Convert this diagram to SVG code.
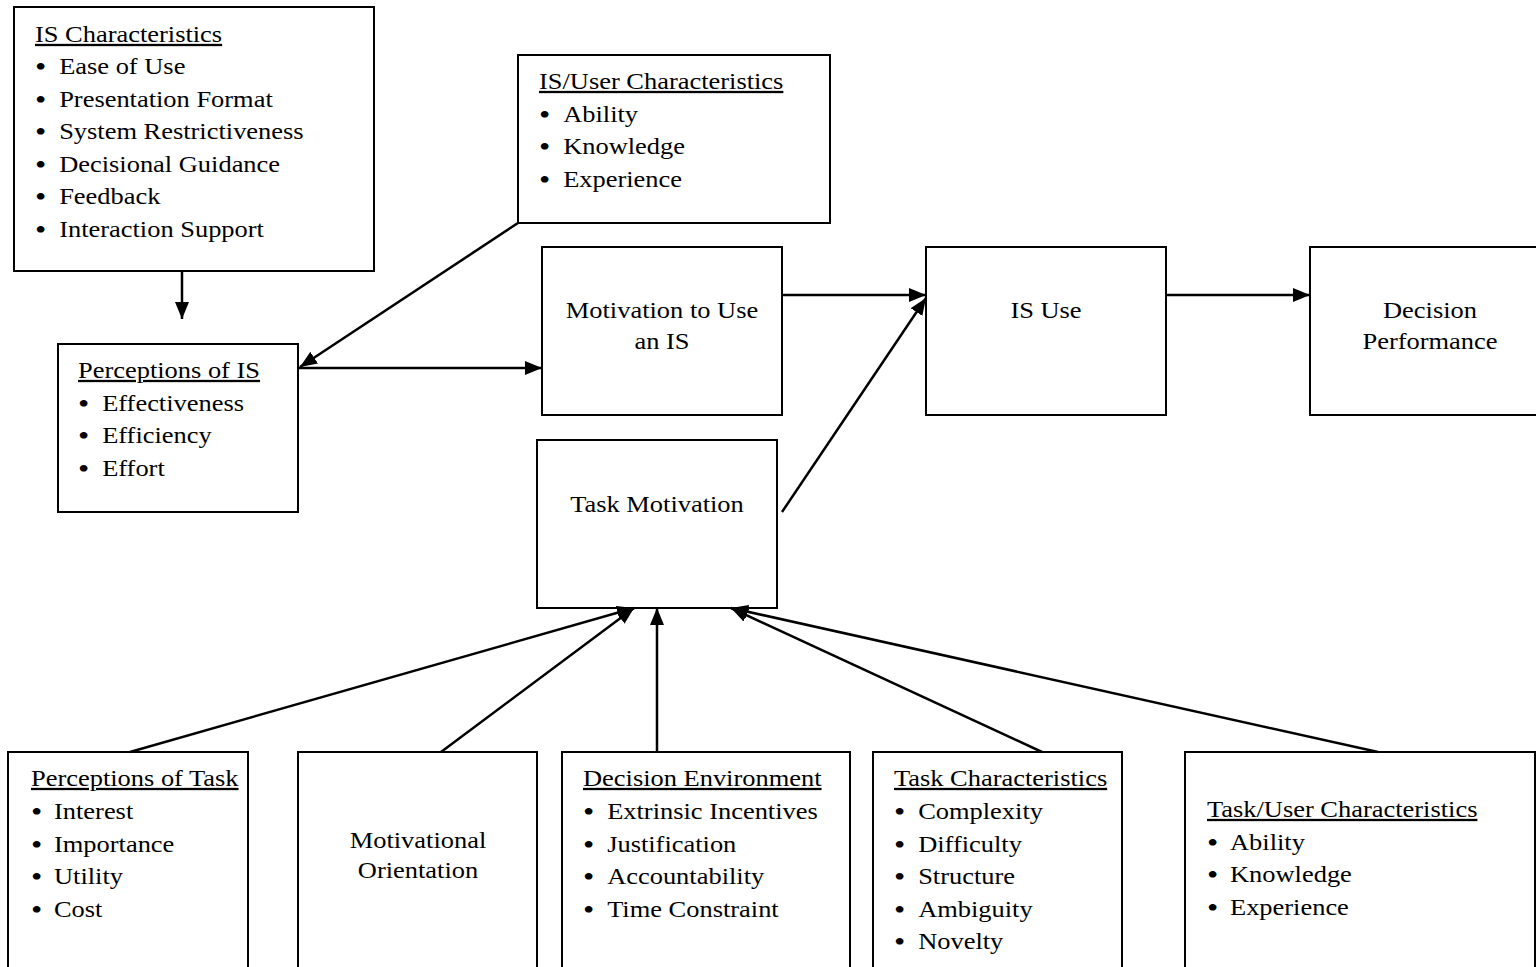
<svg xmlns="http://www.w3.org/2000/svg" width="1536" height="967" viewBox="0 0 1536 967">
<defs>
<marker id="arrow" markerUnits="userSpaceOnUse" markerWidth="18" markerHeight="14" refX="17" refY="7" orient="auto">
<path d="M0,0 L17,7 L0,14 Z" fill="#000"/>
</marker>
<style>
.box{fill:#fff;stroke:#000;stroke-width:2}
text{font-family:"Liberation Serif","Times New Roman",serif;font-size:23px;fill:#000}
.t{text-decoration:underline}
.c{text-anchor:middle}
.b{font-size:28px}
.conn line{stroke:#000;stroke-width:2.5;marker-end:url(#arrow)}
</style>
</defs>
<rect width="1536" height="967" fill="#fff"/>
<g id="is-characteristics">
<rect class="box" x="14" y="7" width="360" height="264"/>
<g transform="matrix(1.15 0 0 1 -5.25 0)">
<text class="t" x="35" y="42">IS Characteristics</text>
<text x="35" y="74"><tspan class="b" dy="2">•</tspan><tspan x="56" dy="-2">Ease of Use</tspan></text>
<text x="35" y="107"><tspan class="b" dy="2">•</tspan><tspan x="56" dy="-2">Presentation Format</tspan></text>
<text x="35" y="139"><tspan class="b" dy="2">•</tspan><tspan x="56" dy="-2">System Restrictiveness</tspan></text>
<text x="35" y="172"><tspan class="b" dy="2">•</tspan><tspan x="56" dy="-2">Decisional Guidance</tspan></text>
<text x="35" y="204"><tspan class="b" dy="2">•</tspan><tspan x="56" dy="-2">Feedback</tspan></text>
<text x="35" y="237"><tspan class="b" dy="2">•</tspan><tspan x="56" dy="-2">Interaction Support</tspan></text>
</g>
</g>
<g id="is-user-characteristics">
<rect class="box" x="518" y="55" width="312" height="168"/>
<g transform="matrix(1.15 0 0 1 -80.85 0)">
<text class="t" x="539" y="89">IS/User Characteristics</text>
<text x="539" y="122"><tspan class="b" dy="2">•</tspan><tspan x="560" dy="-2">Ability</tspan></text>
<text x="539" y="154"><tspan class="b" dy="2">•</tspan><tspan x="560" dy="-2">Knowledge</tspan></text>
<text x="539" y="187"><tspan class="b" dy="2">•</tspan><tspan x="560" dy="-2">Experience</tspan></text>
</g>
</g>
<g id="perceptions-of-is">
<rect class="box" x="58" y="344" width="240" height="168"/>
<g transform="matrix(1.15 0 0 1 -11.7 0)">
<text class="t" x="78" y="378">Perceptions of IS</text>
<text x="78" y="411"><tspan class="b" dy="2">•</tspan><tspan x="99" dy="-2">Effectiveness</tspan></text>
<text x="78" y="443"><tspan class="b" dy="2">•</tspan><tspan x="99" dy="-2">Efficiency</tspan></text>
<text x="78" y="476"><tspan class="b" dy="2">•</tspan><tspan x="99" dy="-2">Effort</tspan></text>
</g>
</g>
<g id="motivation-to-use">
<rect class="box" x="542" y="247" width="240" height="168"/>
<g transform="matrix(1.15 0 0 1 -99.3 0)">
<text class="c" x="662" y="318">Motivation to Use</text>
<text class="c" x="662" y="349">an IS</text>
</g>
</g>
<g id="is-use">
<rect class="box" x="926" y="247" width="240" height="168"/>
<g transform="matrix(1.15 0 0 1 -156.9 0)">
<text class="c" x="1046" y="318">IS Use</text>
</g>
</g>
<g id="decision-performance">
<rect class="box" x="1310" y="247" width="250" height="168"/>
<g transform="matrix(1.15 0 0 1 -214.5 0)">
<text class="c" x="1430" y="318">Decision</text>
<text class="c" x="1430" y="349">Performance</text>
</g>
</g>
<g id="task-motivation">
<rect class="box" x="537" y="440" width="240" height="168"/>
<g transform="matrix(1.15 0 0 1 -98.55 0)">
<text class="c" x="657" y="512">Task Motivation</text>
</g>
</g>
<g id="perceptions-of-task">
<rect class="box" x="8" y="752" width="240" height="230"/>
<g transform="matrix(1.15 0 0 1 -4.65 0)">
<text class="t" x="31" y="786">Perceptions of Task</text>
<text x="31" y="819"><tspan class="b" dy="2">•</tspan><tspan x="51" dy="-2">Interest</tspan></text>
<text x="31" y="852"><tspan class="b" dy="2">•</tspan><tspan x="51" dy="-2">Importance</tspan></text>
<text x="31" y="884"><tspan class="b" dy="2">•</tspan><tspan x="51" dy="-2">Utility</tspan></text>
<text x="31" y="917"><tspan class="b" dy="2">•</tspan><tspan x="51" dy="-2">Cost</tspan></text>
</g>
</g>
<g id="motivational-orientation">
<rect class="box" x="298" y="752" width="239" height="230"/>
<g transform="matrix(1.15 0 0 1 -62.7 0)">
<text class="c" x="418" y="848">Motivational</text>
<text class="c" x="418" y="878">Orientation</text>
</g>
</g>
<g id="decision-environment">
<rect class="box" x="562" y="752" width="288" height="230"/>
<g transform="matrix(1.15 0 0 1 -87.45 0)">
<text class="t" x="583" y="786">Decision Environment</text>
<text x="583" y="819"><tspan class="b" dy="2">•</tspan><tspan x="604" dy="-2">Extrinsic Incentives</tspan></text>
<text x="583" y="852"><tspan class="b" dy="2">•</tspan><tspan x="604" dy="-2">Justification</tspan></text>
<text x="583" y="884"><tspan class="b" dy="2">•</tspan><tspan x="604" dy="-2">Accountability</tspan></text>
<text x="583" y="917"><tspan class="b" dy="2">•</tspan><tspan x="604" dy="-2">Time Constraint</tspan></text>
</g>
</g>
<g id="task-characteristics">
<rect class="box" x="873" y="752" width="249" height="230"/>
<g transform="matrix(1.15 0 0 1 -134.1 0)">
<text class="t" x="894" y="786">Task Characteristics</text>
<text x="894" y="819"><tspan class="b" dy="2">•</tspan><tspan x="915" dy="-2">Complexity</tspan></text>
<text x="894" y="852"><tspan class="b" dy="2">•</tspan><tspan x="915" dy="-2">Difficulty</tspan></text>
<text x="894" y="884"><tspan class="b" dy="2">•</tspan><tspan x="915" dy="-2">Structure</tspan></text>
<text x="894" y="917"><tspan class="b" dy="2">•</tspan><tspan x="915" dy="-2">Ambiguity</tspan></text>
<text x="894" y="949"><tspan class="b" dy="2">•</tspan><tspan x="915" dy="-2">Novelty</tspan></text>
</g>
</g>
<g id="task-user-characteristics">
<rect class="box" x="1185" y="752" width="350" height="230"/>
<g transform="matrix(1.15 0 0 1 -181.05 0)">
<text class="t" x="1207" y="817">Task/User Characteristics</text>
<text x="1207" y="850"><tspan class="b" dy="2">•</tspan><tspan x="1227" dy="-2">Ability</tspan></text>
<text x="1207" y="882"><tspan class="b" dy="2">•</tspan><tspan x="1227" dy="-2">Knowledge</tspan></text>
<text x="1207" y="915"><tspan class="b" dy="2">•</tspan><tspan x="1227" dy="-2">Experience</tspan></text>
</g>
</g>
<g id="connectors" class="conn">
<line x1="182" y1="271" x2="182" y2="319"/>
<line x1="518" y1="223" x2="300" y2="367"/>
<line x1="298" y1="368" x2="542" y2="368"/>
<line x1="782" y1="295" x2="926" y2="295"/>
<line x1="782" y1="512" x2="926" y2="298"/>
<line x1="1166" y1="295" x2="1310" y2="295"/>
<line x1="130" y1="752" x2="634" y2="608"/>
<line x1="441" y1="752" x2="634" y2="608"/>
<line x1="657" y1="752" x2="657" y2="608"/>
<line x1="1042" y1="752" x2="731" y2="608"/>
<line x1="1378" y1="752" x2="731" y2="608"/>
</g>
</svg>
